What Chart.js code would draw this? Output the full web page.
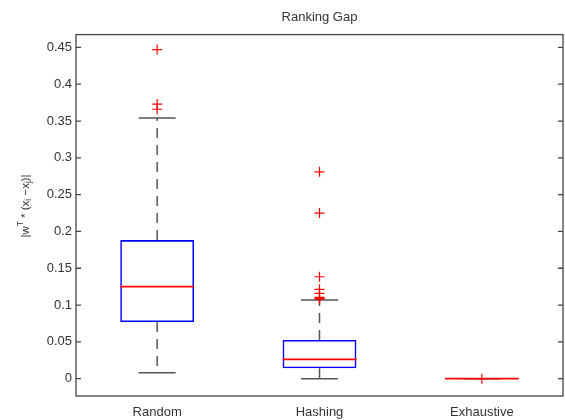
<!DOCTYPE html>
<html>
<head>
<meta charset="utf-8">
<script src="https://cdn.jsdelivr.net/npm/chart.js@4.4.1/dist/chart.umd.min.js"></script>
<style>
html,body{margin:0;padding:0;background:#fff;}
#wrap{width:565px;height:420px;position:relative;}
</style>
</head>
<body>
<div id="wrap"><canvas id="c" width="565" height="420"></canvas></div>
<script>
// ---- data ----
const categories = ['Random', 'Hashing', 'Exhaustive'];
const q1 = [0.077, 0.0141, 0];
const q3 = [0.1883, 0.0526, 0];
const medians = [0.125, 0.0263, 0];
const whiskerLow = [0.0082, 0, 0];
const whiskerHigh = [0.354, 0.107, 0];
const outliersRandom = [0.447, 0.373, 0.366];
const outliersHashing = [0.281, 0.225, 0.1385, 0.1214, 0.116, 0.1105, 0.109, 0.108];
const outliersExhaustive = [0];
const yTicks = [0, 0.05, 0.1, 0.15, 0.2, 0.25, 0.3, 0.35, 0.4, 0.45];
const chartTitle = 'Ranking Gap';

const FONT = 'Liberation Sans, Arial, Helvetica, sans-serif';
const TEXT = '#333333';

const outlierPoints = []
  .concat(outliersRandom.map(v => ({x: categories[0], y: v})))
  .concat(outliersHashing.map(v => ({x: categories[1], y: v})))
  .concat(outliersExhaustive.map(v => ({x: categories[2], y: v})));

const boxPlugin = {
  id: 'boxExtras',
  beforeDatasetsDraw(chart) {
    const ctx = chart.ctx, xs = chart.scales.x, ys = chart.scales.y;
    const band = (xs.right - xs.left) / categories.length;
    ctx.save();
    ctx.strokeStyle = '#555555';
    ctx.lineWidth = 1.5;
    categories.forEach((c, i) => {
      const cx = xs.getPixelForValue(i);
      const capHalf = band * 0.455 / 4;
      ctx.setLineDash([10, 7]);
      ctx.beginPath();
      ctx.moveTo(cx, ys.getPixelForValue(q3[i]));
      ctx.lineTo(cx, ys.getPixelForValue(whiskerHigh[i]));
      ctx.moveTo(cx, ys.getPixelForValue(q1[i]));
      ctx.lineTo(cx, ys.getPixelForValue(whiskerLow[i]));
      ctx.stroke();
      ctx.setLineDash([]);
      ctx.beginPath();
      const yh = ys.getPixelForValue(whiskerHigh[i]);
      const yl = ys.getPixelForValue(whiskerLow[i]);
      ctx.moveTo(cx - capHalf, yh); ctx.lineTo(cx + capHalf, yh);
      ctx.moveTo(cx - capHalf, yl); ctx.lineTo(cx + capHalf, yl);
      ctx.stroke();
    });
    ctx.restore();
  },
  afterDatasetsDraw(chart) {
    const ctx = chart.ctx, xs = chart.scales.x, ys = chart.scales.y, a = chart.chartArea;
    const band = (xs.right - xs.left) / categories.length;
    ctx.save();
    ctx.strokeStyle = '#ff0000';
    ctx.lineWidth = 1.8;
    categories.forEach((c, i) => {
      const cx = xs.getPixelForValue(i);
      const half = band * 0.455 / 2;
      const y = ys.getPixelForValue(medians[i]);
      ctx.beginPath();
      ctx.moveTo(cx - half, y); ctx.lineTo(cx + half, y);
      ctx.stroke();
    });
    ctx.strokeStyle = '#444444';
    ctx.lineWidth = 1.3;
    ctx.strokeRect(a.left, a.top, a.right - a.left, a.bottom - a.top);
    ctx.beginPath();
    yTicks.forEach(v => {
      const y = ys.getPixelForValue(v);
      ctx.moveTo(a.left, y); ctx.lineTo(a.left + 5, y);
      ctx.moveTo(a.right, y); ctx.lineTo(a.right - 5, y);
    });
    ctx.stroke();
    ctx.restore();
    // title centred over the plot area (MATLAB style)
    ctx.save();
    ctx.fillStyle = TEXT;
    ctx.font = '13px ' + FONT;
    ctx.textAlign = 'center';
    ctx.textBaseline = 'middle';
    ctx.fillText(chartTitle, (a.left + a.right) / 2, 17.5);
    ctx.restore();
    // y-axis label with super/subscripts
    ctx.save();
    ctx.fillStyle = TEXT;
    ctx.translate(26, 206);
    ctx.rotate(-Math.PI / 2);
    const big = '11.5px ' + FONT, small = '8.5px ' + FONT;
    const parts = [
      ['|w', big, 0], ['T', small, -5], [' * (x', big, 0], ['i', small, 3],
      [' \u2212x', big, 0], ['j', small, 3], [')|', big, 0]
    ];
    let total = 0;
    parts.forEach(p => { ctx.font = p[1]; total += ctx.measureText(p[0]).width; });
    let x = -total / 2;
    ctx.textBaseline = 'middle';
    parts.forEach(p => {
      ctx.font = p[1];
      ctx.fillText(p[0], x, p[2]);
      x += ctx.measureText(p[0]).width;
    });
    ctx.restore();
  }
};

new Chart(document.getElementById('c'), {
  type: 'bar',
  data: {
    labels: categories,
    datasets: [
      {
        type: 'scatter',
        data: outlierPoints,
        pointStyle: 'cross',
        radius: 5,
        borderColor: '#ff0000',
        backgroundColor: '#ff0000',
        borderWidth: 1.2,
        order: 0
      },
      {
        type: 'bar',
        data: categories.map((c, i) => [q1[i], q3[i]]),
        backgroundColor: 'rgba(0,0,0,0)',
        borderColor: '#0000ff',
        borderWidth: 1.6,
        borderSkipped: false,
        categoryPercentage: 1,
        barPercentage: 0.455,
        order: 1
      }
    ]
  },
  options: {
    responsive: false,
    animation: false,
    events: [],
    layout: {autoPadding: false, padding: {left: 0, right: 2, top: 34.6, bottom: 0}},
    plugins: {
      legend: {display: false},
      tooltip: {enabled: false},
      title: {display: false}
    },
    scales: {
      x: {
        type: 'category',
        offset: true,
        grid: {display: false, drawTicks: false},
        border: {display: false},
        ticks: {color: TEXT, font: {family: FONT, size: 13}, padding: 9, maxRotation: 0},
        afterFit(s) { s.height = 24; s.paddingLeft = 0; s.paddingRight = 0; }
      },
      y: {
        type: 'linear',
        min: -0.0235,
        max: 0.4674,
        grid: {display: false, drawTicks: false},
        border: {display: false},
        afterBuildTicks(s) { s.ticks = yTicks.map(v => ({value: v})); },
        ticks: {
          color: TEXT,
          font: {family: FONT, size: 13},
          padding: 4,
          callback: v => String(Math.round(v * 100) / 100)
        },
        afterFit(s) { s.width = 76; s.paddingTop = 0; s.paddingBottom = 0; }
      }
    }
  },
  plugins: [boxPlugin]
});
</script>
</body>
</html>
